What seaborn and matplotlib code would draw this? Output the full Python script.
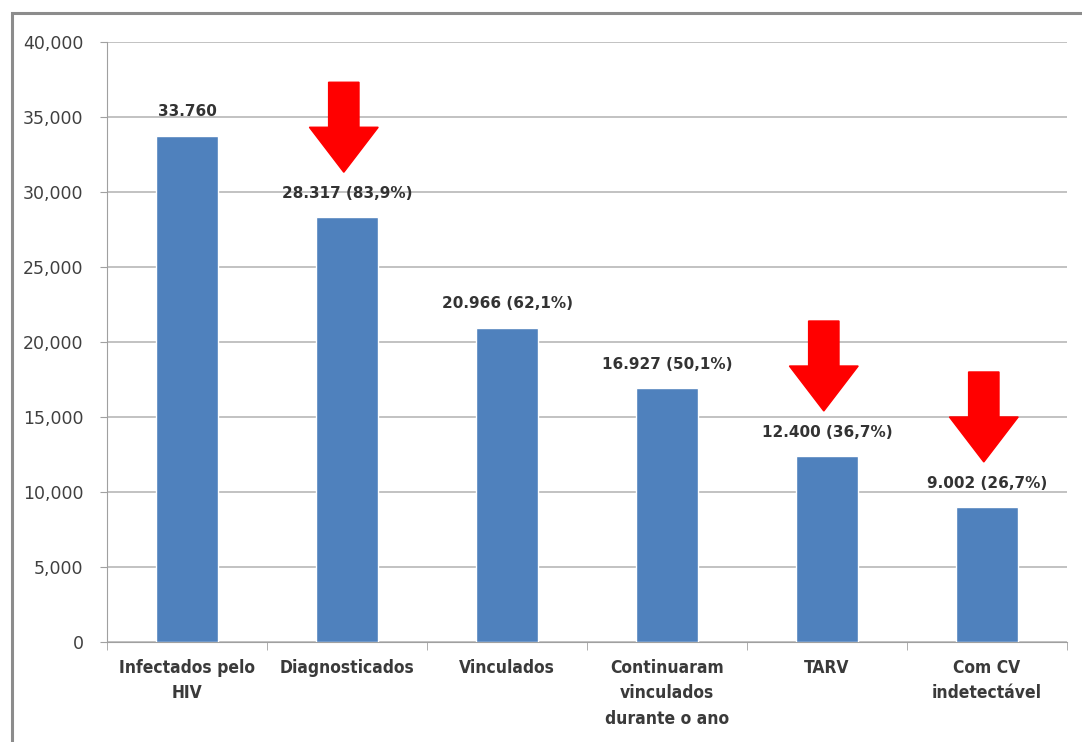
import matplotlib
matplotlib.use('Agg')
import matplotlib.pyplot as plt
import matplotlib.patches as mpatches
import seaborn as sns
import pandas as pd

# dados
categorias = ['Infectados pelo\nHIV', 'Diagnosticados', 'Vinculados',
              'Continuaram\nvinculados\ndurante o ano', 'TARV', 'Com CV\nindetectável']
valores = [33760, 28317, 20966, 16927, 12400, 9002]
rotulos = ['33.760', '28.317 (83,9%)', '20.966 (62,1%)', '16.927 (50,1%)',
           '12.400 (36,7%)', '9.002 (26,7%)']
com_seta = [False, True, False, False, True, True]
yticks = [0, 5000, 10000, 15000, 20000, 25000, 30000, 35000, 40000]

df = pd.DataFrame({'categoria': categorias, 'valor': valores})

sns.set_style('white')
plt.rcParams['font.family'] = ['DejaVu Sans']

fig = plt.figure(figsize=(10.82, 7.42), dpi=100)
ax = fig.add_axes([107 / 1082, 1 - 642 / 742, 960 / 1082, 600 / 742])

# moldura externa
fig.patches.append(mpatches.Rectangle((12 / 1082, -0.05), 1.1, 1 - 13 / 742 + 0.05,
                                      transform=fig.transFigure, fill=False,
                                      edgecolor='#8c8c8c', linewidth=2.2))

sns.barplot(data=df, x='categoria', y='valor', color='#4F81BD', width=0.39,
            saturation=1, ax=ax, zorder=3)

ax.set_ylim(0, 40000)
ax.set_xlim(-0.5, 5.5)
ax.set_yticks(yticks)
ax.set_yticklabels([f'{v:,}' for v in yticks], fontsize=12.5, color='#404040')
ax.yaxis.grid(True, color='#b8b8b8', linewidth=1.2, zorder=0)
ax.set_axisbelow(True)
ax.set_xlabel('')
ax.set_ylabel('')

for s in ['top', 'right']:
    ax.spines[s].set_visible(False)
ax.spines['left'].set_color('#a0a0a0')
ax.spines['bottom'].set_color('#a0a0a0')
ax.tick_params(axis='y', length=5, color='#a0a0a0', pad=12, left=True)

# marcas entre categorias (estilo Excel)
ax.set_xticks(range(len(categorias)))
ax.set_xticklabels(categorias, fontsize=12.5, fontweight='bold', color='#3a3a3a',
                   linespacing=1.55, fontstretch='condensed')
ax.tick_params(axis='x', length=0, pad=12)
ax.set_xticks([i - 0.5 for i in range(len(categorias) + 1)], minor=True)
ax.tick_params(axis='x', which='minor', length=6, color='#a0a0a0', bottom=True)

# rótulos e setas
for i, (v, r, s) in enumerate(zip(valores, rotulos, com_seta)):
    ax.annotate(r, (i, v), xytext=(0, 17), textcoords='offset points',
                ha='center', va='center', fontsize=11, fontweight='bold',
                color='#333333')
    if s:
        seta = mpatches.FancyArrow(i - 0.02, v + 9000, 0, -6000, width=0.19,
                                   head_width=0.43, head_length=3000,
                                   length_includes_head=True, color='#ff0000',
                                   zorder=5)
        ax.add_patch(seta)

plt.savefig('out.png', dpi=100)
